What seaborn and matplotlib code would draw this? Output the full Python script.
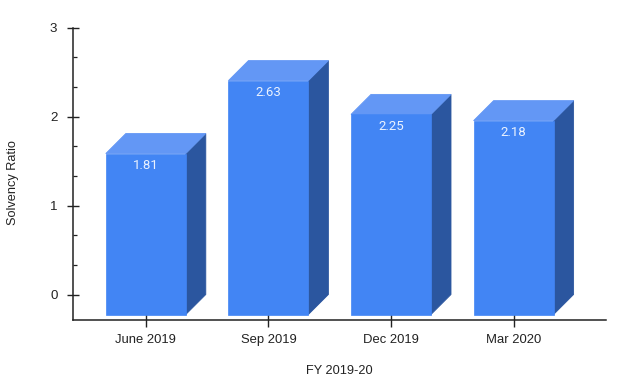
import matplotlib
matplotlib.use("Agg")
import matplotlib.pyplot as plt
from matplotlib.patches import Polygon
from matplotlib.ticker import FixedLocator
import pandas as pd
import seaborn as sns

periods = ["June 2019", "Sep 2019", "Dec 2019", "Mar 2020"]
solvency = [1.81, 2.63, 2.25, 2.18]
value_labels = ["1.81", "2.63", "2.25", "2.18"]

W, H = 630, 384
LEFT, RIGHT, TOP, BOTTOM = 72.5, 606, 27.7, 320
PX_Y = (294.5 - 27.7) / 3
PX_X = 122.6
CAT0 = 145.8
DEPTH = 20

FRONT, SIDE, CAP = "#4285F4", "#2B569F", "#6397F5"
INK = "#222222"
FONT = "Liberation Sans"

sns.set_theme(style="white")
plt.rcParams["font.family"] = [FONT, "DejaVu Sans"]

fig = plt.figure(figsize=(W / 100, H / 100), dpi=100, facecolor="white")
ax = fig.add_axes([LEFT / W, 1 - BOTTOM / H, (RIGHT - LEFT) / W, (BOTTOM - TOP) / H])

dx = DEPTH / PX_X
dy = DEPTH / PX_Y
bar_w = 80 / PX_X

df = pd.DataFrame({"period": periods, "solvency": solvency})

for i, v in enumerate(solvency):
    l, r = i - bar_w / 2, i + bar_w / 2
    top = v - dy
    ax.add_patch(Polygon([(r, -dy), (r + dx, 0), (r + dx, v), (r, top)],
                         closed=True, fc=SIDE, ec=SIDE, lw=0.6, zorder=2))
    ax.add_patch(Polygon([(l, top), (l + dx, v), (r + dx, v), (r, top)],
                         closed=True, fc=CAP, ec=CAP, lw=0.6, zorder=2))
    ax.annotate(value_labels[i], (i, top), xytext=(0, -12), textcoords="offset pixels",
                ha="center", va="center", color="#EAF2FF", fontsize=9.5,
                family=["Roboto", "DejaVu Sans"], zorder=4)

sns.barplot(data=df, x="period", y="solvency", color=FRONT, saturation=1,
            width=bar_w, ax=ax, bottom=-dy, linewidth=0.5, edgecolor=FRONT, zorder=3)

ax.set_xlim((LEFT - CAT0) / PX_X, (RIGHT - CAT0) / PX_X)
ax.set_ylim((294.5 - BOTTOM) / PX_Y, (294.5 - TOP) / PX_Y)

for s in ("top", "right"):
    ax.spines[s].set_visible(False)
for s in ("left", "bottom"):
    ax.spines[s].set_color(INK)
    ax.spines[s].set_linewidth(1.1)

ax.set_yticks([0, 1, 2, 3])
ax.yaxis.set_minor_locator(FixedLocator([1 / 3, 2 / 3, 4 / 3, 5 / 3, 7 / 3, 8 / 3]))
ax.tick_params(axis="y", which="major", direction="inout", length=8.6, width=1.0,
               color=INK, labelcolor=INK, labelsize=9.6, pad=6.5, left=True)
ax.tick_params(axis="y", which="minor", direction="in", length=2.9, width=0.9,
               color=INK, left=True)
ax.tick_params(axis="x", which="major", direction="inout", length=9.4, width=1.0,
               color=INK, labelcolor=INK, labelsize=9.4, pad=5.5, bottom=True)

ax.set_xlabel("")
ax.set_ylabel("")
fig.text(339 / W, 1 - 371 / H, "FY 2019-20", ha="center", va="center",
         color=INK, fontsize=9.2)
fig.text(13 / W, 1 - 183 / H, "Solvency Ratio", ha="center", va="center",
         rotation=90, color=INK, fontsize=9.2)

fig.savefig("out.png", dpi=100, facecolor="white")
